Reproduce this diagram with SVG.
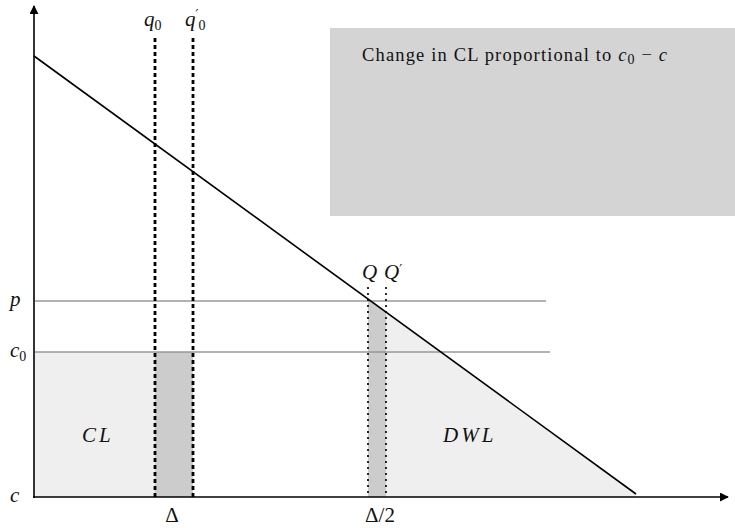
<svg xmlns="http://www.w3.org/2000/svg" width="735" height="528" viewBox="0 0 735 528">
<style>
text{font-family:"Liberation Serif","DejaVu Serif",serif;fill:#111}
.m{font-style:italic;font-size:21px}
.up{font-style:normal}
.sub{font-size:14px;font-style:normal}
.ax{stroke:#000;stroke-width:1.6;fill:none}
.hl{stroke:#999;stroke-width:1.6}
.dash{stroke:#000;stroke-width:2.8;stroke-dasharray:4 3}
.dot{stroke:#000;stroke-width:2.2;stroke-dasharray:0 6;stroke-linecap:round}
.lt{fill:#efefef}
.dk{fill:#cccccc}
</style>
<defs>
<marker id="ah" viewBox="0 0 10 10" refX="9" refY="5" markerWidth="9" markerHeight="9" markerUnits="userSpaceOnUse" orient="auto"><path d="M0,0 L10,5 L0,10 z" fill="#000"/></marker>
</defs>
<g id="note">
<rect x="330" y="28" width="405" height="188" fill="#d4d4d4"/>
<text x="362" y="61" font-size="18.5" textLength="305" lengthAdjust="spacing">Change in CL proportional to <tspan font-style="italic">c</tspan><tspan class="sub" dy="3">0</tspan><tspan dy="-3"> − </tspan><tspan font-style="italic">c</tspan></text>
</g>
<g id="areas">
<rect id="CL-area" class="lt" x="35" y="352" width="120" height="145"/>
<rect id="delta-area" class="dk" x="155" y="352" width="38" height="145"/>
<polygon id="dwl-area" class="lt" points="386,312.1 636,494 636,497 386,497"/>
<polygon id="delta2-area" class="dk" points="368,299 386,312.1 386,497 368,497"/>
</g>
<g id="connectors">
<line class="hl" x1="35" y1="301" x2="546" y2="301"/>
<line class="hl" x1="35" y1="352" x2="550" y2="352"/>
<line class="dash" x1="155" y1="38" x2="155" y2="497"/>
<line class="dash" x1="193" y1="38" x2="193" y2="497"/>
<line class="dot" x1="368" y1="288" x2="368" y2="497"/>
<line class="dot" x1="386" y1="288" x2="386" y2="497"/>
<line id="demand" stroke="#000" stroke-width="1.6" x1="34" y1="56" x2="636" y2="494"/>
<line class="ax" x1="34" y1="498" x2="34" y2="6" marker-end="url(#ah)"/>
<line class="ax" x1="33" y1="497" x2="728" y2="497" marker-end="url(#ah)"/>
</g>
<g id="labels">
<text class="m" x="144" y="26">q<tspan class="sub" dy="4">0</tspan></text>
<text class="m" x="185" y="26">q<tspan class="up" font-family="DejaVu Sans" font-size="13" dy="-8">′</tspan><tspan class="up" font-size="14" dy="12">0</tspan></text>
<text class="m" x="362" y="279">Q</text>
<text class="m" x="384" y="279">Q<tspan class="up" font-family="DejaVu Sans" font-size="13" dy="-6">′</tspan></text>
<text class="m" x="10" y="306">p</text>
<text class="m" x="10" y="357">c<tspan class="sub" dy="4">0</tspan></text>
<text class="m" x="10" y="502">c</text>
<text class="m" x="82" y="442" letter-spacing="3">CL</text>
<text class="m" x="443" y="442" letter-spacing="3">DWL</text>
<text x="172" y="522" font-size="21" text-anchor="middle">Δ</text>
<text x="380" y="522" font-size="21" text-anchor="middle">Δ/2</text>
</g>
</svg>
